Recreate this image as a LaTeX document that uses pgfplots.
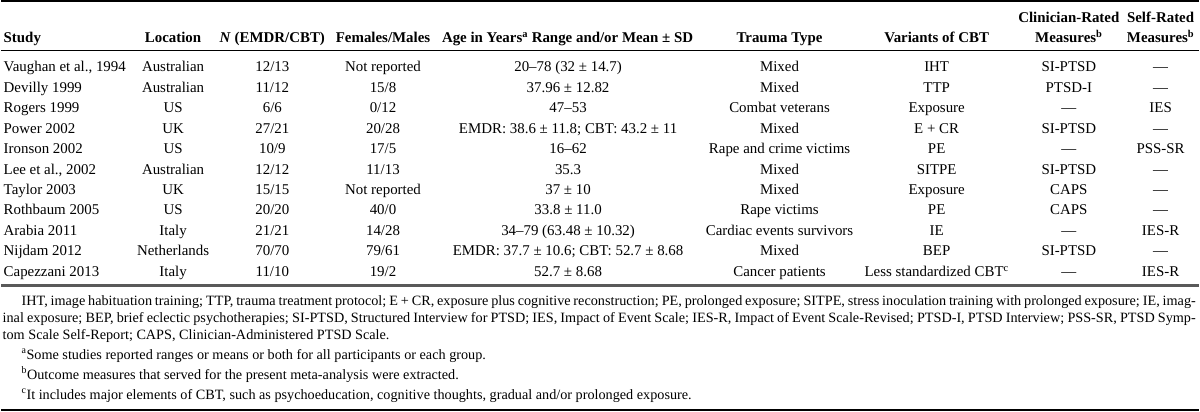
\documentclass[border=0pt]{standalone}
\usepackage{pgfplots}
\pgfplotsset{compat=1.18}
\usepackage{fontspec}
\setmainfont{Liberation Serif}
\newcommand\fnfont{\fontsize{14.3}{17}\selectfont\spaceskip=.25em plus .15em minus .12em\relax}
\begin{document}
\fontsize{15}{18}\selectfont
\begin{tikzpicture}
\begin{axis}[width=1200bp,height=413bp,scale only axis,hide axis,
  xmin=0,xmax=1200,ymin=0,ymax=413,y dir=reverse,clip=false]
% rules
\draw[line width=2bp] (axis cs:0,1) -- (axis cs:1200,1);
\draw[line width=1bp] (axis cs:0,50.5) -- (axis cs:1200,50.5);
\draw[line width=3bp,black!65] (axis cs:0,286) -- (axis cs:1200,286);
\draw[line width=2bp] (axis cs:0,411.5) -- (axis cs:1200,411.5);
% header
\begin{scope}[every node/.style={font=\bfseries,inner sep=0pt}]
\node[anchor=base west] at (axis cs:2,42.5) {Study};
\node[anchor=base] at (axis cs:172,42.5) {Location};
\node[anchor=base] at (axis cs:271.5,42.5) {\textit{N} (EMDR/CBT)};
\node[anchor=base] at (axis cs:382.5,42.5) {Females/Males};
\node[anchor=base] at (axis cs:567.5,42.5) {Age in Years\textsuperscript{a} Range and/or Mean ± SD};
\node[anchor=base] at (axis cs:780,42.5) {Trauma Type};
\node[anchor=base] at (axis cs:937.5,42.5) {Variants of CBT};
\node[anchor=base] at (axis cs:1070,23) {Clinician-Rated};
\node[anchor=base] at (axis cs:1070,42.5) {Measures\textsuperscript{b}};
\node[anchor=base] at (axis cs:1162,23) {Self-Rated};
\node[anchor=base] at (axis cs:1162,42.5) {Measures\textsuperscript{b}};
\end{scope}
% rows
\pgfplotsextra{%
\begin{scope}[every node/.style={inner sep=0pt}]
\foreach \y/\st/\lo/\n/\fm/\age/\tr/\va/\cl/\se in {
 72/{Vaughan et al., 1994}/Australian/12\slash 13/Not reported/{20–78 (32 ± 14.7)}/Mixed/IHT/SI-PTSD/—,
 92.5/Devilly 1999/Australian/11\slash 12/15\slash 8/{37.96 ± 12.82}/Mixed/TTP/PTSD-I/—,
 113/Rogers 1999/US/6\slash 6/0\slash 12/47–53/Combat veterans/Exposure/—/IES,
 133.5/Power 2002/UK/27\slash 21/20\slash 28/{EMDR: 38.6 ± 11.8; CBT: 43.2 ± 11}/Mixed/E + CR/SI-PTSD/—,
 154/Ironson 2002/US/10\slash 9/17\slash 5/16–62/Rape and crime victims/PE/—/PSS-SR,
 174.5/{Lee et al., 2002}/Australian/12\slash 12/11\slash 13/35.3/Mixed/SITPE/SI-PTSD/—,
 195/Taylor 2003/UK/15\slash 15/Not reported/{37 ± 10}/Mixed/Exposure/CAPS/—,
 215.5/Rothbaum 2005/US/20\slash 20/40\slash 0/{33.8 ± 11.0}/Rape victims/PE/CAPS/—,
 236/Arabia 2011/Italy/21\slash 21/14\slash 28/{34–79 (63.48 ± 10.32)}/Cardiac events survivors/IE/—/IES-R,
 256.5/Nijdam 2012/Netherlands/70\slash 70/79\slash 61/{EMDR: 37.7 ± 10.6; CBT: 52.7 ± 8.68}/Mixed/BEP/SI-PTSD/—,
 277/Capezzani 2013/Italy/11\slash 10/19\slash 2/{52.7 ± 8.68}/Cancer patients/{Less standardized CBT\textsuperscript{c}}/—/IES-R}{
 \node[anchor=base west] at (axis cs:2,\y) {\st};
 \node[anchor=base] at (axis cs:172,\y) {\lo};
 \node[anchor=base] at (axis cs:271.5,\y) {\n};
 \node[anchor=base] at (axis cs:382.5,\y) {\fm};
 \node[anchor=base] at (axis cs:568,\y) {\age};
 \node[anchor=base] at (axis cs:780,\y) {\tr};
 \node[anchor=base] at (axis cs:937.5,\y) {\va};
 \node[anchor=base] at (axis cs:1070,\y) {\cl};
 \node[anchor=base] at (axis cs:1162,\y) {\se};
}
\end{scope}}
% footnotes
\begin{scope}[every node/.style={inner sep=0pt,font=\fnfont}]
\node[anchor=base west] at (axis cs:20,306) {\makebox[1177bp][s]{IHT, image habituation training; TTP, trauma treatment protocol; E + CR, exposure plus cognitive reconstruction; PE, prolonged exposure; SITPE, stress inoculation training with prolonged exposure; IE, imag-}};
\node[anchor=base west] at (axis cs:1,323) {\makebox[1196bp][s]{inal exposure; BEP, brief eclectic psychotherapies; SI-PTSD, Structured Interview for PTSD; IES, Impact of Event Scale; IES-R, Impact of Event Scale-Revised; PTSD-I, PTSD Interview; PSS-SR, PTSD Symp-}};
\node[anchor=base west] at (axis cs:1,340) {tom Scale Self-Report; CAPS, Clinician-Administered PTSD Scale.};
\node[anchor=base west] at (axis cs:20,360) {\textsuperscript{a}Some studies reported ranges or means or both for all participants or each group.};
\node[anchor=base west] at (axis cs:20,380) {\textsuperscript{b}Outcome measures that served for the present meta-analysis were extracted.};
\node[anchor=base west] at (axis cs:20,400) {\textsuperscript{c}It includes major elements of CBT, such as psychoeducation, cognitive thoughts, gradual and/or prolonged exposure.};
\end{scope}
\end{axis}
\end{tikzpicture}
\end{document}
